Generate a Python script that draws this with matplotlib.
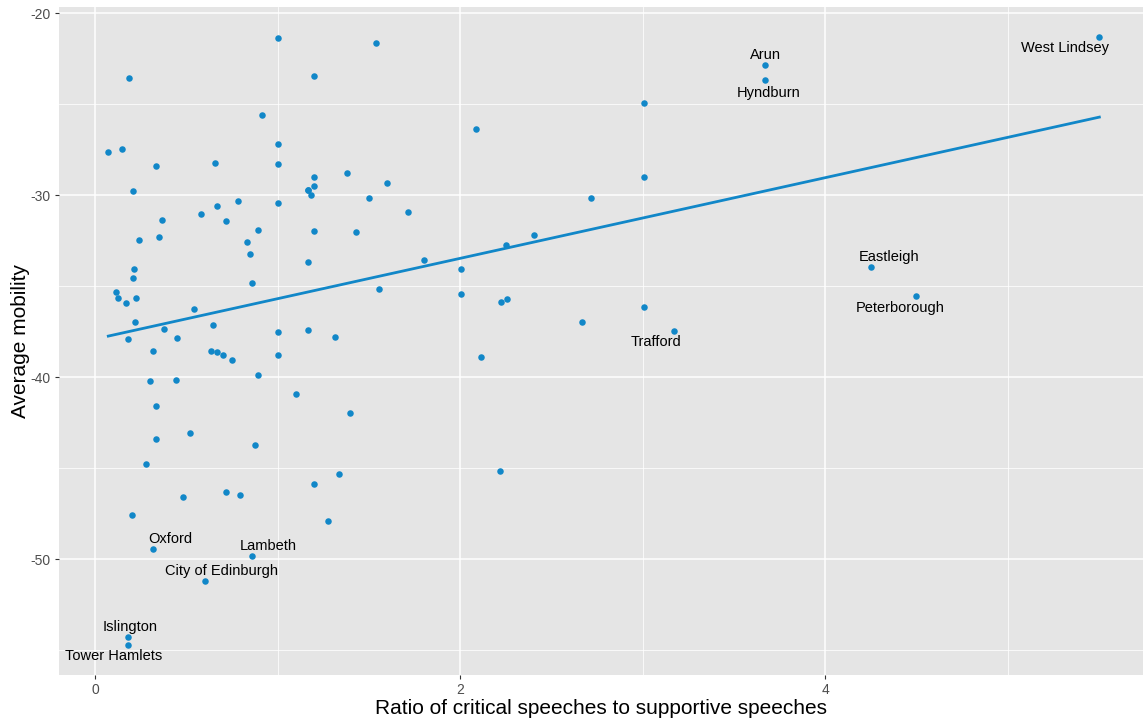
import matplotlib
matplotlib.use("Agg")
import matplotlib.pyplot as plt
import numpy as np

# ratio of critical to supportive speeches, average mobility
ratio = [1.003, 0.188, 0.917, 0.073, 0.150, 1.003, 0.334, 0.656, 1.003, 0.210,
         1.166, 0.785, 0.668, 1.003, 0.365, 0.580, 0.716, 0.891, 1.541, 1.201,
         1.201, 1.383, 1.602, 1.201, 1.169, 1.184, 1.501, 1.717, 1.201, 1.430,
         0.243, 0.349, 0.835, 0.848, 1.166, 0.215, 0.208, 0.858, 0.115, 0.126,
         0.225, 0.168, 0.541, 0.220, 0.648, 0.376, 1.003, 1.166, 0.183, 0.451,
         0.320, 0.637, 0.668, 0.701, 0.751, 1.003, 0.891, 0.301, 0.445, 1.101,
         0.334, 0.334, 0.522, 0.877, 1.803, 1.558, 1.315, 1.399, 0.279, 0.482,
         0.716, 0.795, 0.201, 1.335, 1.201, 1.275, 3.005, 2.086, 3.005, 2.718,
         2.403, 2.252, 2.004, 2.004, 2.225, 2.254, 3.005, 2.670, 2.113, 2.221,
         0.320, 0.858, 0.601, 0.179, 0.179, 3.171, 3.671, 3.671, 5.501, 4.252,
         4.499]
mobility = [-21.36, -23.54, -25.60, -27.62, -27.46, -27.20, -28.39, -28.23, -28.30, -29.77,
            -29.71, -30.30, -30.59, -30.45, -31.35, -31.02, -31.40, -31.90, -21.62, -23.46,
            -28.98, -28.80, -29.31, -29.49, -29.73, -29.97, -30.17, -30.94, -31.95, -32.00,
            -32.45, -32.30, -32.56, -33.22, -33.69, -34.04, -34.54, -34.84, -35.34, -35.65,
            -35.65, -35.93, -36.27, -36.99, -37.14, -37.34, -37.52, -37.39, -37.89, -37.85,
            -38.57, -38.55, -38.60, -38.80, -39.06, -38.77, -39.87, -40.23, -40.14, -40.93,
            -41.57, -43.40, -43.09, -43.70, -33.55, -35.14, -37.81, -41.99, -44.79, -46.61,
            -46.33, -46.50, -47.56, -45.33, -45.89, -47.89, -24.95, -26.34, -28.98, -30.15,
            -32.20, -32.74, -34.07, -35.41, -35.89, -35.72, -36.13, -36.97, -38.91, -45.16,
            -49.47, -49.82, -51.21, -54.30, -54.73, -37.47, -22.85, -23.68, -21.30, -33.94,
            -35.54]

# labelled areas: name, ratio, mobility, label offset (pixels)
label_names = ["Oxford", "Lambeth", "City of Edinburgh", "Islington", "Tower Hamlets",
               "Trafford", "Arun", "Hyndburn", "West Lindsey", "Eastleigh", "Peterborough"]
label_x = [0.320, 0.858, 0.601, 0.179, 0.179, 3.171, 3.671, 3.671, 5.501, 4.252, 4.499]
label_y = [-49.47, -49.82, -51.21, -54.30, -54.73, -37.47, -22.85, -23.68, -21.30, -33.94, -35.54]
label_off = [(17, 10), (17, 10), (17, 10), (2, 10), (-14, -11),
             (-18, -11), (0, 10), (3, -13), (-34, -11), (18, 10), (-16, -12)]

blue = "#1187c8"

plt.rcParams["font.family"] = ["Liberation Sans", "DejaVu Sans"]
plt.rcParams["axes.unicode_minus"] = False

fig = plt.figure(figsize=(11.43, 7.21), dpi=100)
ax = fig.add_axes([59 / 1143, 46 / 721, 1 - 59 / 1143, 668 / 721])
ax.set_facecolor("#E5E5E5")

ax.set_xlim(-0.197, 5.74)
ax.set_ylim(-56.37, -19.65)
ax.set_xticks([0, 2, 4])
ax.set_xticks([1, 3, 5], minor=True)
ax.set_yticks([-50, -40, -30, -20])
ax.set_yticks([-55, -45, -35, -25], minor=True)
ax.grid(which="major", color="white", linewidth=1.1)
ax.grid(which="minor", color="white", linewidth=0.55)
ax.set_axisbelow(True)
for s in ax.spines.values():
    s.set_visible(False)
ax.tick_params(which="major", length=3, width=0.8, color="#333333",
               labelsize=10, labelcolor="#4D4D4D", pad=3)
ax.tick_params(which="minor", length=0)

ax.scatter(ratio, mobility, s=22, color=blue, linewidths=0, zorder=3)

# linear fit
x = np.array(ratio)
y = np.array(mobility)
slope, intercept = np.polyfit(x, y, 1)
xs = np.array([x.min(), x.max()])
ax.plot(xs, intercept + slope * xs, color=blue, linewidth=2.0, zorder=4)

for name, lx, ly, off in zip(label_names, label_x, label_y, label_off):
    ax.annotate(name, (lx, ly), xytext=off, textcoords="offset pixels",
                ha="center", va="center", fontsize=10.5, color="black", zorder=5)

ax.set_xlabel("Ratio of critical speeches to supportive speeches", fontsize=15, labelpad=1)
ax.set_ylabel("Average mobility", fontsize=15, labelpad=0)

fig.savefig("out.png", dpi=100)
